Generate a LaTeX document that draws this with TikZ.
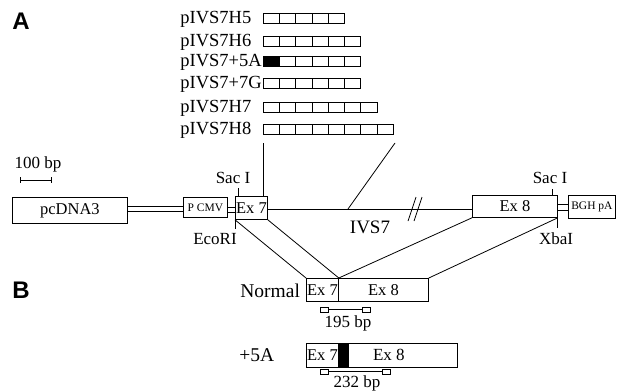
\documentclass[tikz,border=0pt]{standalone}
\usepackage{fontspec}
\setmainfont{Liberation Serif}
\newfontfamily\panelfont{Liberation Sans}
\begin{document}
\begin{tikzpicture}[x=1pt, y=-1pt, line width=0.8pt,
    exon/.style={draw, rectangle, inner sep=0pt, anchor=north west, font=\fontsize{16.5}{18}\selectfont},
    lbl/.style={inner sep=0pt, anchor=base, font=\fontsize{17}{19}\selectfont},
    biglbl/.style={inner sep=0pt, anchor=base west, font=\fontsize{18.5}{20}\selectfont},
    small/.style={font=\fontsize{11.5}{13}\selectfont},
    primer/.style={draw, rectangle, inner sep=0pt, minimum width=8pt, minimum height=5pt, line width=0.7pt},
    panel/.style={inner sep=0pt, anchor=base west, font=\panelfont\bfseries\fontsize{24}{26}\selectfont}]
    \useasboundingbox (0,0) rectangle (618,391);

    % Panel labels
    \node[panel] (pa) at (12,29) {A};
    \node[panel] (pb) at (12,298) {B};

    % Hairpin constructs
    \foreach \nm/\txt/\y/\n in {h5/pIVS7H5/13/5, h6/pIVS7H6/36/6, m5a/pIVS7+5A/56/6,
                               m7g/pIVS7+7G/78/6, h7/pIVS7H7/102/7, h8/pIVS7H8/124/8} {
        \node[biglbl] (\nm) at (180,\y+10.5) {\txt};
        \foreach \k in {1,...,\n}
            \draw (263+16.3*\k-16.3,\y) rectangle ++(16.3,10.5);
    }
    \fill (263,56) rectangle ++(16.3,10.5);

    % Scale bar
    \node[lbl] (scale) at (38,168) {100 bp};
    \draw[line width=0.6pt, |-|] (20,180) -- (52,180);

    % Minigene
    \node[exon, minimum width=115pt, minimum height=26pt] (pcdna) at (12,197) {pcDNA3};
    \node[exon, small, minimum width=44pt, minimum height=20pt] (pcmv) at (183,197) {P CMV};
    \node[exon, minimum width=32pt, minimum height=23pt] (ex7) at (235,196) {Ex 7};
    \node[exon, minimum width=85pt, minimum height=22pt] (ex8) at (472,195) {Ex 8};
    \node[exon, small, minimum width=47pt, minimum height=23pt] (bgh) at (568,195) {BGH pA};
    \foreach \yy in {206,211} \draw[line width=0.7pt] (pcdna.east |- 0,\yy) -- (pcmv.west |- 0,\yy);
    \foreach \yy in {207,212} \draw[line width=0.7pt] (pcmv.east |- 0,\yy) -- (ex7.west |- 0,\yy);
    \foreach \yy in {204,210} \draw[line width=0.7pt] (ex8.east |- 0,\yy) -- (bgh.west |- 0,\yy);

    % Intron
    \draw (ex7.east |- 0,209) -- (ex8.west |- 0,209);
    \draw (408,221) -- (416,197);
    \draw (414,221) -- (422,197);
    \node[lbl, font=\fontsize{19}{21}\selectfont] (ivs7) at (370,233) {IVS7};

    % Restriction sites
    \draw ([xshift=3pt]ex7.north west) -- ++(0,-8);
    \node[lbl] (sac1) at (233,183) {Sac I};
    \draw (ex7.south west) -- ++(0,9);
    \node[lbl] (ecori) at (215,244) {EcoRI};
    \draw ([xshift=-5pt]ex8.north east) -- ++(0,-6);
    \node[lbl] (sac2) at (550,183) {Sac I};
    \draw (ex8.south east) -- ++(0,10);
    \node[lbl] (xbai) at (556,244) {XbaI};

    % Insert position
    \coordinate (hl) at (263,143);
    \coordinate (hr) at (395,143);
    \coordinate (ivs) at (348,209);
    \draw (hl) -- (hl |- ex7.north);
    \draw (hr) -- (ivs);

    % Normal splicing
    \node[biglbl, font=\fontsize{19.5}{21}\selectfont] (normal) at (240,297) {Normal};
    \node[exon, minimum width=32pt, minimum height=23pt] (nex7) at (306,278) {Ex 7};
    \node[exon, minimum width=90pt, minimum height=23pt] (nex8) at (338,278) {Ex 8};
    \draw (ex7.south west) -- (nex7.north west);
    \draw (ex7.south east) -- (nex7.north east);
    \draw (ex8.south west) -- (nex7.north east);
    \draw (ex8.south east) -- (nex8.north east);
    \node[primer] (nf) at (324.5,309.5) {};
    \node[primer] (nr) at (366,309.5) {};
    \draw[line width=0.6pt] (nf) -- (nr);
    \node[lbl] (n195) at (348,327) {195 bp};

    % +5A splicing
    \node[biglbl, font=\fontsize{19.5}{21}\selectfont] (plus5a) at (239,361) {+5A};
    \node[exon, minimum width=32pt, minimum height=24pt] (mex7) at (306,343) {Ex 7};
    \node[exon, fill=black, minimum width=10pt, minimum height=24pt] (ins) at (338,343) {};
    \node[exon, minimum width=109pt, minimum height=24pt] (mex8) at (348,343) {};
    \node[lbl, anchor=center] (mex8t) at ([xshift=-14pt]mex8.center) {Ex 8};
    \node[primer] (mf) at (324,371.5) {};
    \node[primer] (mr) at (386,371.5) {};
    \draw[line width=0.6pt] (mf) -- (mr);
    \node[lbl] (m232) at (357,387) {232 bp};
\end{tikzpicture}
\end{document}
